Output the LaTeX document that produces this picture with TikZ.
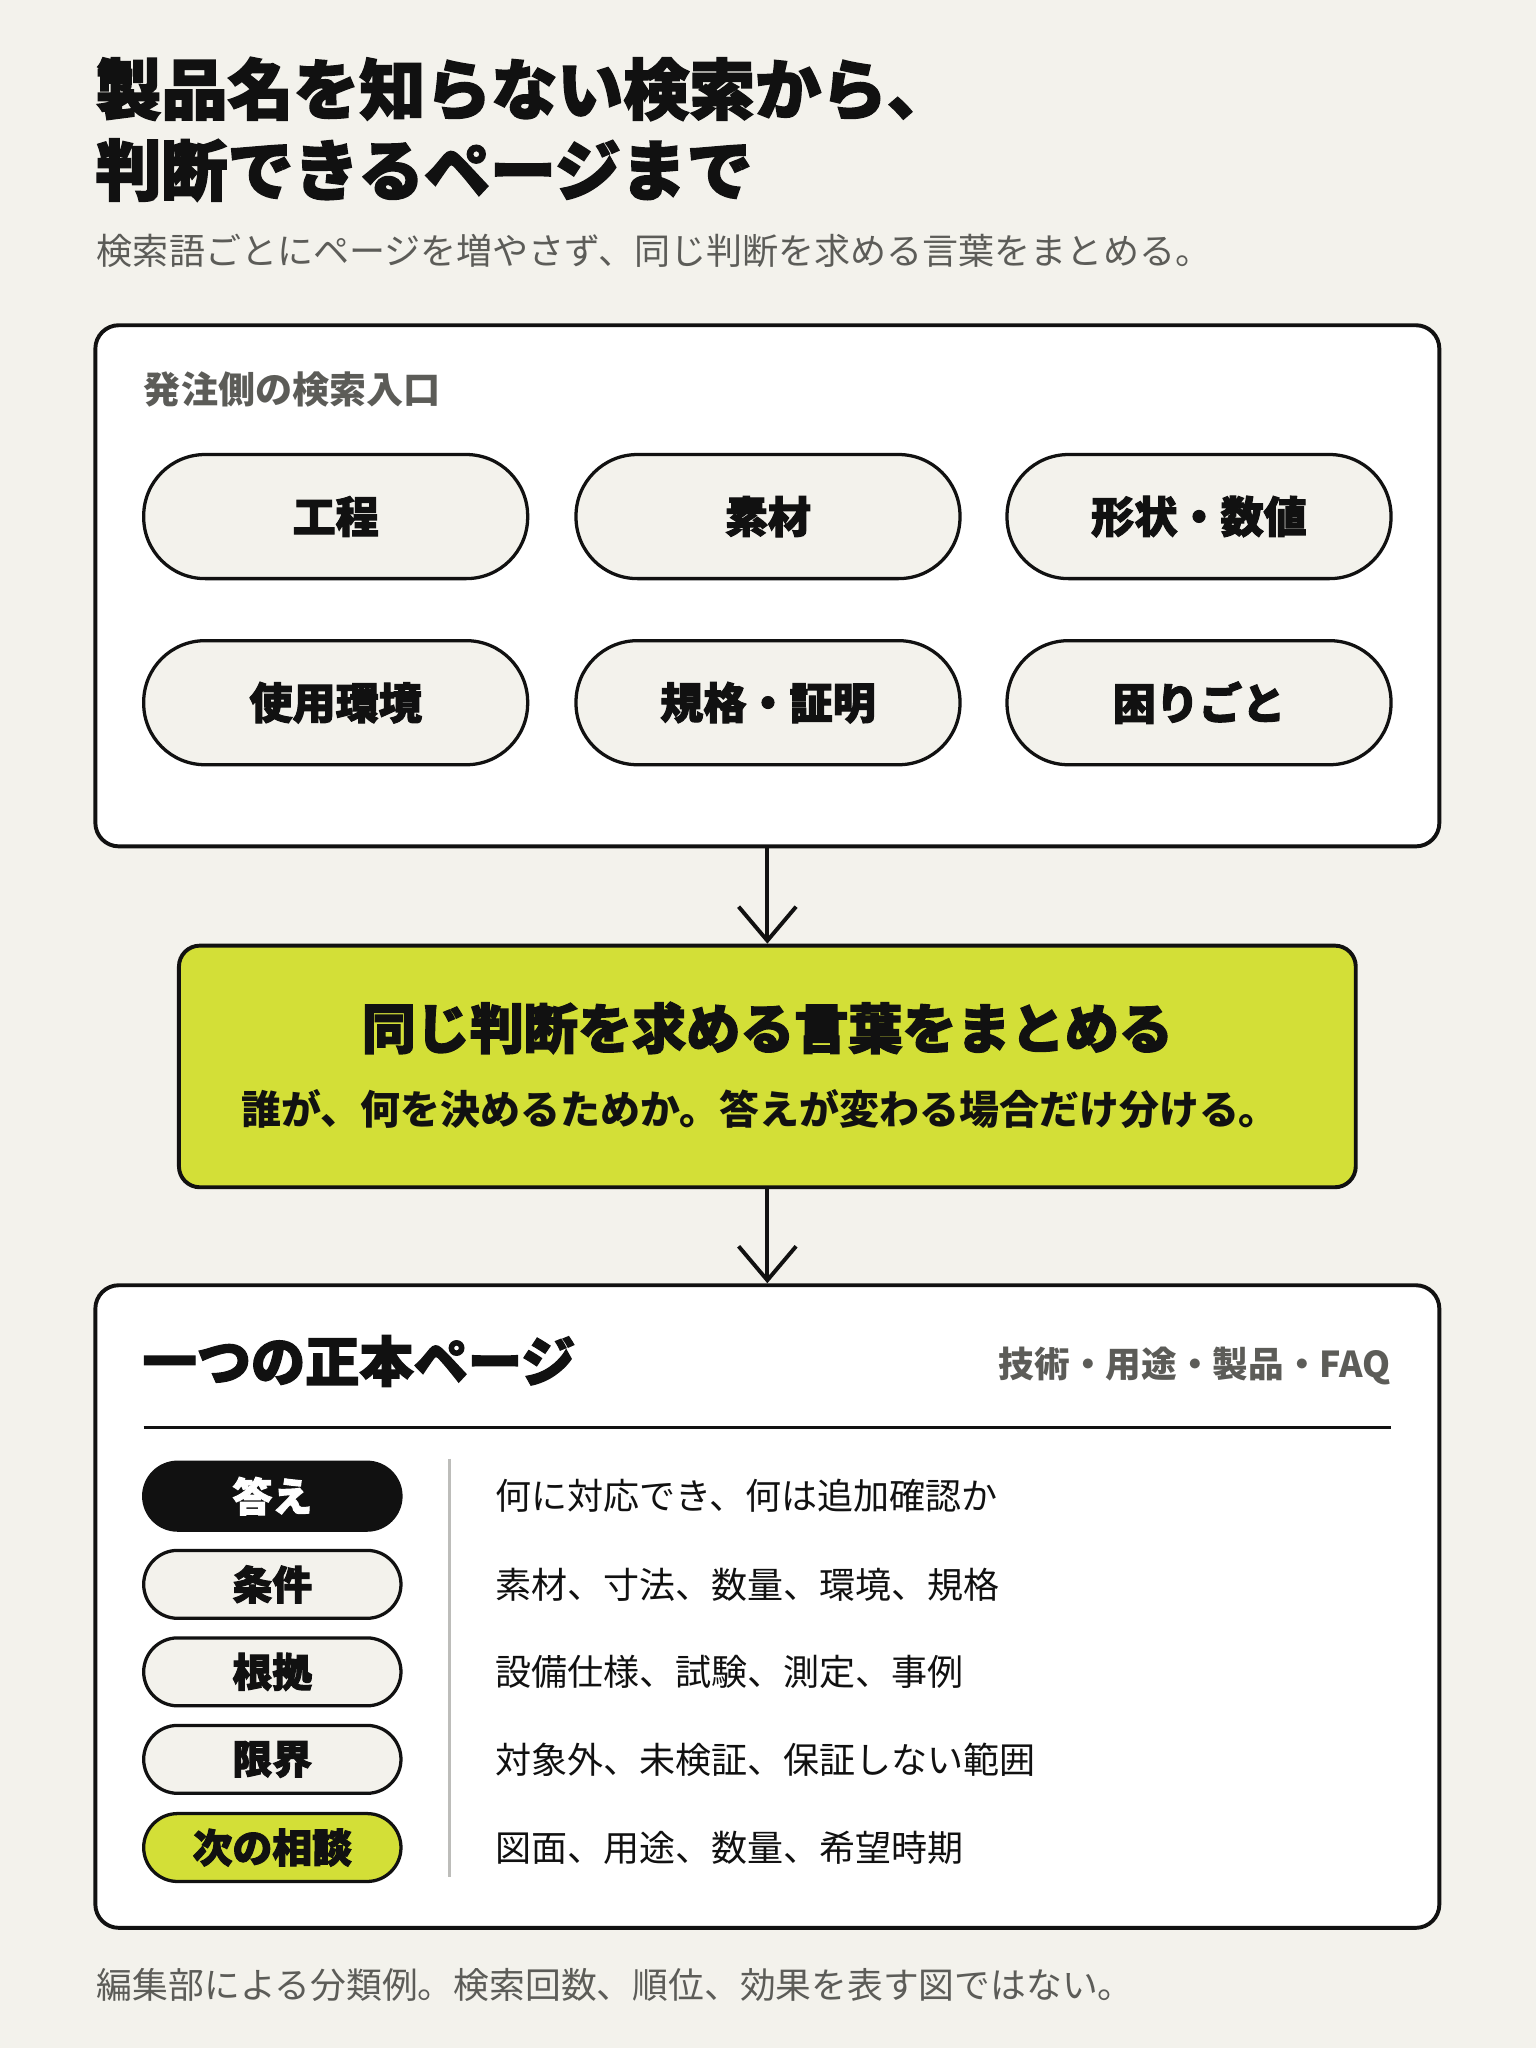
\documentclass[tikz,border=0pt]{standalone}
\usepackage{fontspec}
\setmainfont{Noto Sans CJK JP}
\newfontfamily\heavy{Noto Sans CJK JP}[BoldFeatures={FakeBold=2.5}]
\usepackage{tikz}
\usetikzlibrary{arrows.meta}
\definecolor{bg}{HTML}{F3F2EC}
\definecolor{lime}{HTML}{D3DF37}
\definecolor{ink}{HTML}{111111}
\definecolor{txtgray}{HTML}{5C5C58}
\definecolor{linegray}{HTML}{BDBDBA}

\begin{document}
\begin{tikzpicture}[x=1pt, y=-1pt,
        font=\fontsize{27.6}{32}\selectfont, text=ink,
        box/.style={draw=ink, line width=3pt, fill=white, rounded corners=18pt, inner sep=0pt},
        pill/.style={draw=ink, line width=2.5pt, fill=bg, rounded corners=47pt,
            minimum width=294pt, minimum height=95pt, inner sep=0pt,
            font=\heavy\bfseries\fontsize{33}{36}\selectfont},
        tag/.style={pill, rounded corners=26pt, minimum width=197pt, minimum height=52pt,
            font=\heavy\bfseries\fontsize{30.5}{34}\selectfont},
        note/.style={inner sep=0pt, anchor=west, text=txtgray},
        item/.style={inner sep=0pt, anchor=west},
        >={Straight Barb[length=26pt, width=44pt]} % offene Spitze
        ]
            \fill[bg] (0,0) rectangle (1176,1568);
            \useasboundingbox (0,0) rectangle (1176,1568);

            % Titel
            \node[inner sep=0pt, anchor=west, align=left,
                  font=\heavy\bfseries\fontsize{50.5}{62}\selectfont] (T) at (73,99)
                  {製品名を知らない検索から、\\判断できるページまで};
            \node[note] (Tsub) at (74,192) {検索語ごとにページを増やさず、同じ判断を求める言葉をまとめる。};

            % Kasten 1
            \node[box, minimum width=1029pt, minimum height=399pt] (B1) at (587.5,448.5) {};
            \node[note, font=\bfseries\fontsize{28.4}{32}\selectfont] (B1t) at (110,298) {発注側の検索入口};
            \node[pill] (P11) at (257,395.5) {工程};
            \node[pill] (P12) at (588,395.5) {素材};
            \node[pill] (P13) at (918,395.5) {形状・数値};
            \node[pill] (P21) at (257,538) {使用環境};
            \node[pill] (P22) at (588,538) {規格・証明};
            \node[pill] (P23) at (918,538) {困りごと};

            % Kasten 2
            \node[box, fill=lime, rounded corners=16pt, minimum width=901pt, minimum height=185pt] (G) at (587.5,816.5) {};
            \node[inner sep=0pt, font=\heavy\bfseries\fontsize{41.4}{44}\selectfont] (Gt) at (587.5,787) {同じ判断を求める言葉をまとめる};
            \node[inner sep=0pt, font=\bfseries\fontsize{30.6}{34}\selectfont] (Gs) at (582,849) {誰が、何を決めるためか。答えが変わる場合だけ分ける。};

            % Kasten 3
            \node[box, minimum width=1029pt, minimum height=492pt] (B3) at (587.5,1230) {};
            \node[item, font=\heavy\bfseries\fontsize{41.5}{44}\selectfont] (H) at (109,1042) {一つの正本ページ};
            \node[note, anchor=east, font=\bfseries\fontsize{27.3}{32}\selectfont] (Hr) at (1065,1046) {技術・用途・製品・FAQ};
            \coordinate (Ra) at (110,1093);
            \coordinate (Rb) at (1065,1093);
            \coordinate (Va) at (344,1117);
            \coordinate (Vb) at (344,1437);

            \node[tag, fill=ink, text=white] (K1) at (208.5,1145.5) {答え};
            \node[tag] (K2) at (208.5,1213) {条件};
            \node[tag] (K3) at (208.5,1280) {根拠};
            \node[tag] (K4) at (208.5,1347) {限界};
            \node[tag, fill=lime] (K5) at (208.5,1414.5) {次の相談};

            \node[item] (L1) at (379,1145.5) {何に対応でき、何は追加確認か};
            \node[item] (L2) at (379,1213) {素材、寸法、数量、環境、規格};
            \node[item] (L3) at (379,1280) {設備仕様、試験、測定、事例};
            \node[item] (L4) at (379,1347) {対象外、未検証、保証しない範囲};
            \node[item] (L5) at (379,1414.5) {図面、用途、数量、希望時期};

            % Leiter
            \draw[ink, line width=2pt] (Ra) -- (Rb);
            \draw[linegray, line width=2pt] (Va) -- (Vb);

            % Pfeile
            \draw[->, ink, line width=3pt] (B1.south) -- (G.north);
            \draw[->, ink, line width=3pt] (G.south) -- (B3.north);

            % Fusszeile
            \node[note, font=\fontsize{27.4}{32}\selectfont] (F) at (74,1520) {編集部による分類例。検索回数、順位、効果を表す図ではない。};
        \end{tikzpicture}
\end{document}
